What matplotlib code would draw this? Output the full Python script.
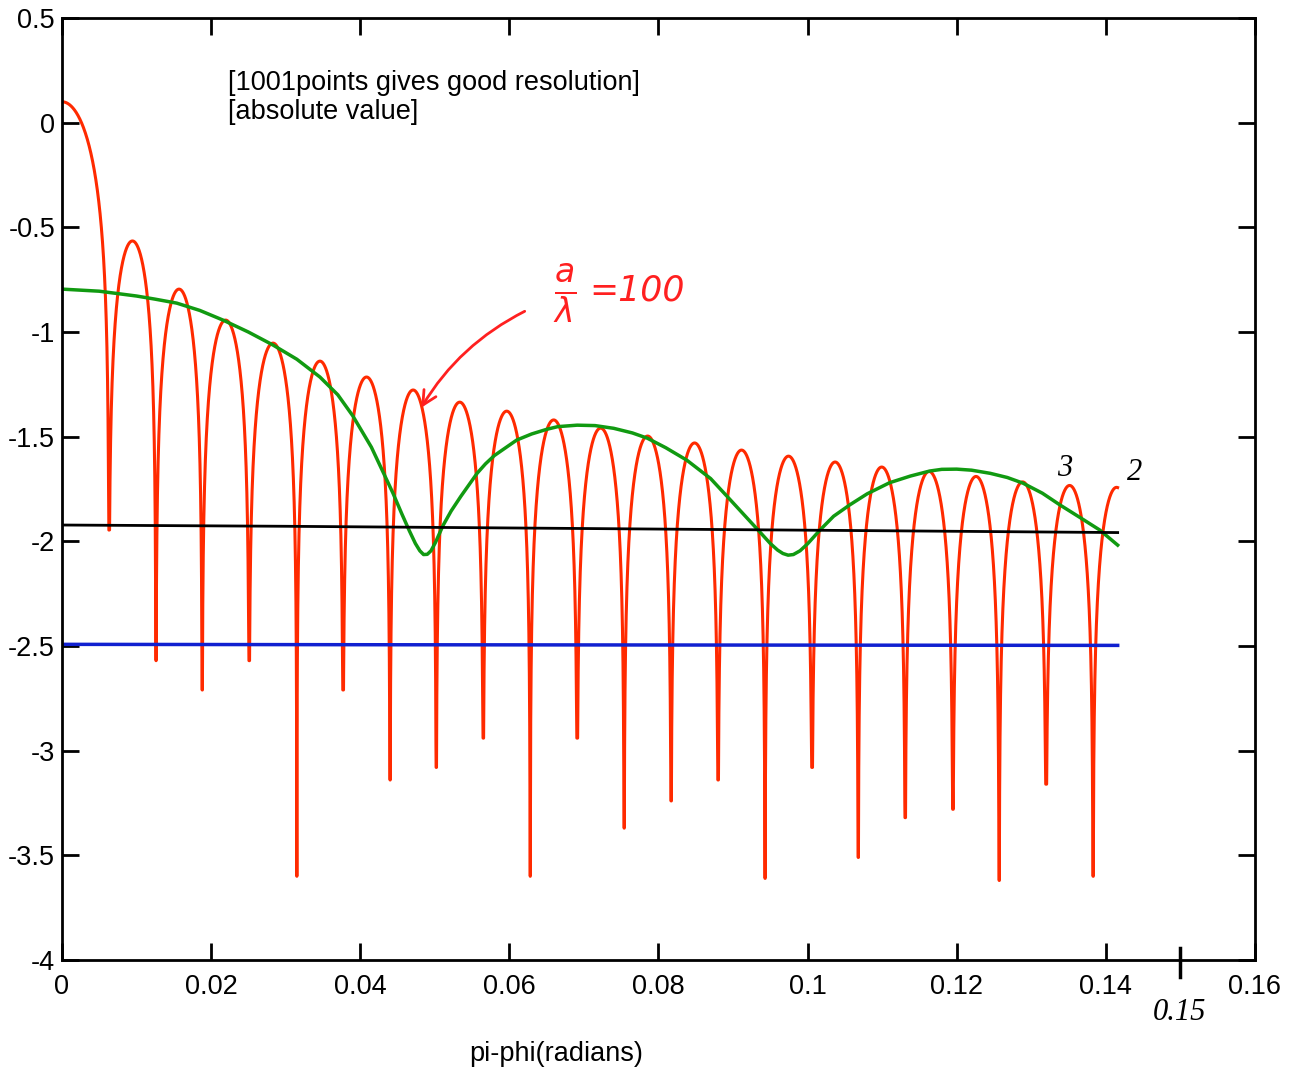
import matplotlib
matplotlib.use("Agg")
import matplotlib.pyplot as plt
import matplotlib.transforms as mtransforms
import numpy as np

plt.rcParams['font.family'] = ['Liberation Sans', 'DejaVu Sans']

# red curve (arch edges = nulls, peak of each lobe, depth of each null)
red_edges = [-0.0063, 0.0063, 0.0126, 0.0188, 0.0251, 0.0315, 0.0377, 0.0440,
             0.0502, 0.0565, 0.0628, 0.0691, 0.0754, 0.0817, 0.0880, 0.0943,
             0.1006, 0.1068, 0.1131, 0.1195, 0.1257, 0.1320, 0.1383, 0.1446]
red_peaks = [0.10, -0.565, -0.795, -0.943, -1.053, -1.139, -1.215, -1.277,
             -1.335, -1.378, -1.420, -1.459, -1.497, -1.530, -1.564, -1.593,
             -1.621, -1.645, -1.666, -1.690, -1.716, -1.733, -1.742]
red_dips = [-1.946, -2.57, -2.71, -2.57, -3.60, -2.71, -3.14, -3.08, -2.94,
            -3.60, -2.94, -3.37, -3.24, -3.14, -3.61, -3.08, -3.51, -3.32,
            -3.28, -3.62, -3.16, -3.60]
red_xmax = 0.1416

green_x = [0.0, 0.005, 0.010, 0.0125, 0.0154, 0.0185, 0.0216, 0.025, 0.0283,
           0.0315, 0.0346, 0.037, 0.039, 0.0415, 0.0444, 0.0456, 0.0466, 0.0474,
           0.0480, 0.0485, 0.0490, 0.0495, 0.0501, 0.0511, 0.0522, 0.0535,
           0.0557, 0.0568, 0.058, 0.061, 0.063, 0.065, 0.0665, 0.0691, 0.0715,
           0.074, 0.0765, 0.0785, 0.0810, 0.0838, 0.087, 0.0896, 0.0936, 0.0950,
           0.0960, 0.0967, 0.0974, 0.0981, 0.0990, 0.1000, 0.1017, 0.1035,
           0.1057, 0.108, 0.111, 0.1138, 0.1164, 0.118, 0.12, 0.122, 0.1245,
           0.1268, 0.1289, 0.1315, 0.1339, 0.1365, 0.1392, 0.1416]
green_y = [-0.795, -0.805, -0.828, -0.843, -0.862, -0.897, -0.943, -1.00, -1.062,
           -1.13, -1.215, -1.30, -1.40, -1.55, -1.77, -1.87, -1.95, -2.01,
           -2.045, -2.063, -2.062, -2.045, -2.005, -1.925, -1.855, -1.785,
           -1.674, -1.63, -1.59, -1.516, -1.487, -1.465, -1.452, -1.445, -1.447,
           -1.46, -1.482, -1.507, -1.553, -1.612, -1.70, -1.80, -1.955, -2.01,
           -2.042, -2.058, -2.066, -2.063, -2.045, -2.012, -1.945, -1.88,
           -1.825, -1.773, -1.72, -1.688, -1.664, -1.656, -1.655, -1.660, -1.675,
           -1.695, -1.722, -1.77, -1.827, -1.885, -1.946, -2.018]

black_x = [0.0, 0.03, 0.06, 0.09, 0.12, 0.1416]
black_y = [-1.922, -1.928, -1.936, -1.944, -1.952, -1.958]

blue_x = [0.0, 0.045, 0.1416]
blue_y = [-2.492, -2.494, -2.497]

xticks = [0, 0.02, 0.04, 0.06, 0.08, 0.1, 0.12, 0.14, 0.16]
xticklabels = ['0', '0.02', '0.04', '0.06', '0.08', '0.1', '0.12', '0.14', '0.16']
yticks = [-4, -3.5, -3, -2.5, -2, -1.5, -1, -0.5, 0, 0.5]
yticklabels = ['-4', '-3.5', '-3', '-2.5', '-2', '-1.5', '-1', '-0.5', '0', '0.5']


def build_red():
    xs, ys = [], []
    u = np.linspace(0, 1, 600)[1:-1]
    t = 0.5 - 0.5 * np.cos(np.pi * u)
    for i, p in enumerate(red_peaks):
        L, R = red_edges[i], red_edges[i + 1]
        x = L + t * (R - L)
        y = p + np.log10(np.sin(np.pi * t))
        if i > 0:
            y[t < 0.5] = np.maximum(y[t < 0.5], red_dips[i - 1])
            xs.append(L)
            ys.append(red_dips[i - 1])
        if i < len(red_dips):
            y[t >= 0.5] = np.maximum(y[t >= 0.5], red_dips[i])
        keep = (x >= 0) & (x <= red_xmax)
        xs.extend(x[keep])
        ys.extend(y[keep])
    return np.array(xs), np.array(ys)


fig = plt.figure(figsize=(12.91, 10.73), dpi=100)
ax = fig.add_axes([0.048, 0.1053, 0.924, 0.8779])

rx, ry = build_red()
ax.plot(rx, ry, color='#ff2a00', lw=2.2)
ax.plot(green_x, green_y, color='#119a11', lw=2.5)
ax.plot(black_x, black_y, color='black', lw=2.0)
ax.plot(blue_x, blue_y, color='#1020d0', lw=2.5)

ax.set_xlim(0, 0.16)
ax.set_ylim(-4, 0.5)
ax.set_xticks(xticks)
ax.set_xticklabels(xticklabels)
ax.set_yticks(yticks)
ax.set_yticklabels(yticklabels)
ax.tick_params(direction='in', length=12, width=2, labelsize=19.5,
               top=True, right=True)
ax.tick_params(axis='x', pad=10)
ax.tick_params(axis='y', pad=5)
for s in ax.spines.values():
    s.set_linewidth(2)

ax.text(0.0223, 0.189, '[1001points gives good resolution]', fontsize=19.5, va='center')
ax.text(0.0223, 0.051, '[absolute value]', fontsize=19.5, va='center')

fig.text(0.431, 0.018, 'pi-phi(radians)', fontsize=19.5, ha='center', va='center')

# hand-written notes on the scan
ax.annotate('', xy=(0.048, -1.373), xytext=(0.0624, -0.895),
            arrowprops=dict(arrowstyle='->', color='#ff2020', lw=2,
                            connectionstyle='arc3,rad=0.15', mutation_scale=25))
ax.text(0.0675, -0.82, r'$\frac{a}{\lambda}$', color='#ff2020', fontsize=34,
        ha='center', va='center')
ax.text(0.0707, -0.80, '=100', color='#ff2020', fontsize=25, style='italic',
        va='center', family=['DejaVu Sans'])
ax.text(0.1345, -1.65, '3', fontsize=22, style='italic', ha='center', va='center',
        family=['Liberation Serif'])
ax.text(0.1439, -1.67, '2', fontsize=22, style='italic', ha='center', va='center',
        family=['Liberation Serif'])
trans = mtransforms.blended_transform_factory(ax.transData, ax.transAxes)
hand_tick_x = 0.15
ax.plot([hand_tick_x, hand_tick_x], [0.013, -0.018], color='black', lw=2.5,
        transform=trans, clip_on=False)
fig.text(0.914, 0.056, '0.15', fontsize=22, style='italic', ha='center', va='center',
         family=['Liberation Serif'])

fig.savefig('out.png', dpi=100)
